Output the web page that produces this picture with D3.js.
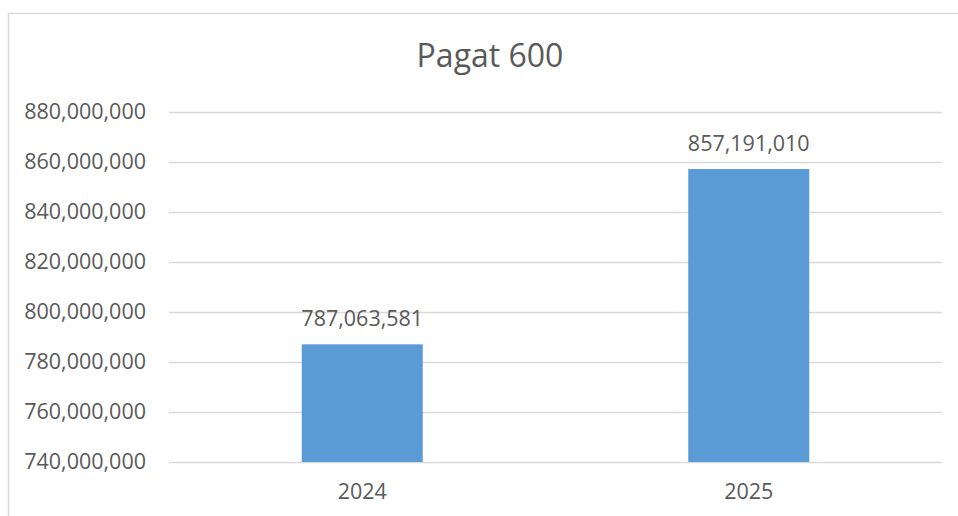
<!DOCTYPE html>
<html>
<head>
<meta charset="utf-8">
<script src="https://cdn.jsdelivr.net/npm/d3@7"></script>
<style>
  body { margin: 0; background: #fff; }
  text { font-family: "Open Sans", "Noto Sans", sans-serif; fill: #595959; }
</style>
</head>
<body>
<div id="canvas"></div>
<script>
const title = "Pagat 600";
const categories = ["2024", "2025"];
const values = [787063581, 857191010];
const yTicks = [740000000, 760000000, 780000000, 800000000, 820000000, 840000000, 860000000, 880000000];

const W = 958, H = 516;
const margin = { top: 112, right: 16, bottom: 54, left: 169 },
    width = W - margin.left - margin.right,
    height = H - margin.top - margin.bottom;

const root = d3.select("#canvas")
    .append("svg")
    .attr("width", W)
    .attr("height", H);

// chart border
root.append("rect")
    .attr("x", 8.5)
    .attr("y", 13.5)
    .attr("width", W)
    .attr("height", H)
    .attr("fill", "none")
    .attr("stroke", "#d9d9d9")
    .attr("stroke-width", 1.5);

root.append("text")
    .attr("x", 490)
    .attr("y", 67)
    .attr("text-anchor", "middle")
    .style("font-size", "32px")
    .text(title);

const svg = root.append("g")
    .attr("transform", `translate(${margin.left},${margin.top})`);

const x = d3.scaleBand()
    .domain(categories)
    .range([0, width])
    .paddingInner(0.687)
    .paddingOuter(0.3435);

const y = d3.scaleLinear()
    .domain([740000000, 880000000])
    .range([height, 0]);

// gridlines + y labels
const yAxis = svg.append("g")
    .call(d3.axisLeft(y).tickValues(yTicks).tickSize(-width).tickPadding(23).tickFormat(d3.format(",")));
yAxis.select(".domain").remove();
yAxis.selectAll(".tick line").attr("stroke", "#d9d9d9").attr("stroke-width", 1.5);
yAxis.selectAll(".tick text")
    .attr("fill", "#595959")
    .style("font-size", "21.5px")
    .style("font-family", "'Open Sans', sans-serif");

// x labels
const xAxis = svg.append("g")
    .attr("transform", "translate(0," + height + ")")
    .call(d3.axisBottom(x).tickSize(0).tickPadding(22));
xAxis.select(".domain").remove();
xAxis.selectAll(".tick text")
    .attr("fill", "#595959")
    .style("font-size", "21.5px")
    .style("font-family", "'Open Sans', sans-serif");

// bars
svg.append("g")
    .selectAll("rect")
    .data(values)
    .join("rect")
    .attr("x", (d, i) => x(categories[i]))
    .attr("y", d => y(d))
    .attr("width", x.bandwidth())
    .attr("height", d => height - y(d))
    .attr("fill", "#5b9bd5");

// data labels
svg.append("g")
    .selectAll("text")
    .data(values)
    .join("text")
    .attr("x", (d, i) => x(categories[i]) + x.bandwidth() / 2)
    .attr("y", d => y(d) - 18)
    .attr("text-anchor", "middle")
    .style("font-size", "21.5px")
    .attr("fill", "#404040")
    .text(d => d3.format(",")(d));
</script>
</body>
</html>
